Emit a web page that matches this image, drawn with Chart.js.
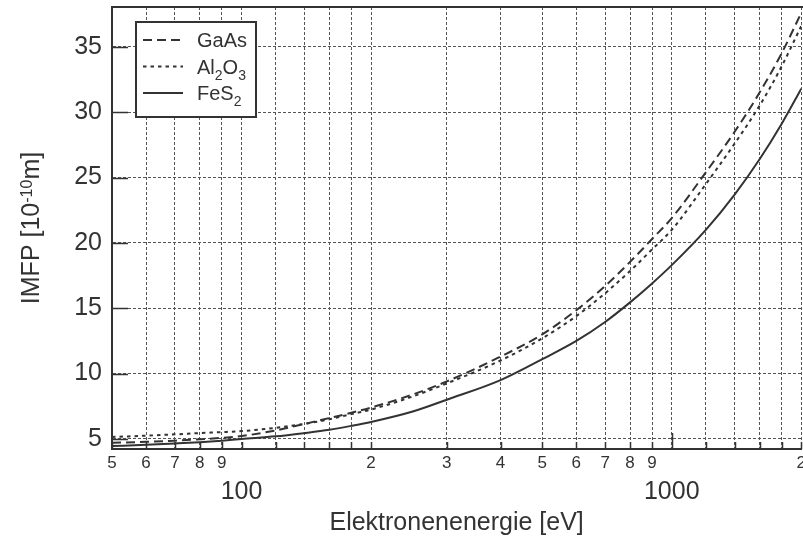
<!DOCTYPE html>
<html>
<head>
<meta charset="utf-8">
<script src="https://cdn.jsdelivr.net/npm/chart.js@4"></script>
<style>
  html, body { margin: 0; padding: 0; background: #fff; overflow: hidden; }
  #wrap { width: 810px; height: 539px; }
</style>
</head>
<body>
<div id="wrap"><canvas id="imfpChart"></canvas></div>
<script>
// electron energy in eV
const energy = [50, 60, 70, 80, 90, 100, 120, 140, 160, 180, 200, 250, 300, 400, 500, 600, 700, 800, 900, 1000, 1200, 1400, 1600, 1800, 2000];
// IMFP in 1e-10 m
const gaas  = [4.70, 4.78, 4.87, 4.97, 5.08, 5.22, 5.65, 6.15, 6.6, 7.0, 7.4, 8.4, 9.4, 11.3, 13.0, 14.85, 16.7, 18.55, 20.3, 21.9, 25.4, 28.5, 31.5, 34.5, 37.6];
const al2o3 = [5.15, 5.25, 5.35, 5.45, 5.52, 5.6, 5.85, 6.15, 6.5, 6.9, 7.25, 8.25, 9.25, 11.0, 12.7, 14.4, 16.15, 17.85, 19.5, 21.0, 24.5, 27.6, 30.5, 33.5, 36.6];
const fes2  = [4.45, 4.55, 4.65, 4.75, 4.87, 5.0, 5.2, 5.45, 5.7, 6.0, 6.3, 7.1, 8.0, 9.5, 11.1, 12.5, 13.95, 15.45, 16.9, 18.3, 21.0, 23.7, 26.4, 29.1, 31.8];

const xTickValues = [50, 60, 70, 80, 90, 100, 120, 140, 160, 180, 200, 300, 400, 500, 600, 700, 800, 900, 1000, 1200, 1400, 1600, 1800, 2000];
const xTickLabels = ['5', '6', '7', '8', '9', '', '', '', '', '', '2', '3', '4', '5', '6', '7', '8', '9', '', '', '', '', '', '2'];
const xDecadeValues = [100, 1000];
const xDecadeLabels = ['100', '1000'];
const yTickValues = [5, 10, 15, 20, 25, 30, 35];

const INK = '#333';
const FONT = '"Liberation Sans", Arial, sans-serif';

function pts(ys) {
  return energy.map((e, i) => ({ x: e, y: ys[i] }));
}

// chemical formula: digits become subscripts
function drawFormula(ctx, text, x, y, size) {
  for (const ch of text) {
    const sub = /[0-9]/.test(ch);
    ctx.font = (sub ? Math.round(size * 0.7) : size) + 'px ' + FONT;
    ctx.fillText(ch, x, sub ? y + size * 0.32 : y);
    x += ctx.measureText(ch).width;
  }
}

const overlay = {
  id: 'overlay',
  afterDraw(chart) {
    const { ctx, chartArea: a, scales } = chart;
    ctx.save();
    ctx.strokeStyle = INK;
    ctx.fillStyle = INK;

    // top frame line
    ctx.lineWidth = 2;
    ctx.beginPath();
    ctx.moveTo(a.left - 1, a.top);
    ctx.lineTo(a.right + 2, a.top);
    ctx.stroke();

    // inward tick marks
    ctx.lineWidth = 1.5;
    scales.x.ticks.forEach(t => {
      const px = Math.round(scales.x.getPixelForValue(t.value)) + 0.5;
      const len = t.value === 1000 ? 16 : 7;
      ctx.beginPath();
      ctx.moveTo(px, a.bottom);
      ctx.lineTo(px, a.bottom - len);
      ctx.stroke();
    });
    scales.y.ticks.forEach(t => {
      const py = Math.round(scales.y.getPixelForValue(t.value)) + 0.5;
      ctx.beginPath();
      ctx.moveTo(a.left, py);
      ctx.lineTo(a.left + 16, py);
      ctx.stroke();
    });

    // legend box
    const bx = a.left + 24, by = a.top + 15, bw = 120, bh = 95;
    ctx.fillStyle = '#fff';
    ctx.fillRect(bx, by, bw, bh);
    ctx.lineWidth = 2;
    ctx.strokeRect(bx, by, bw, bh);
    ctx.fillStyle = INK;
    ctx.textBaseline = 'alphabetic';
    chart.data.datasets.forEach((ds, i) => {
      const ry = by + 18 + i * 26.5;
      ctx.save();
      ctx.lineWidth = ds.borderWidth;
      ctx.setLineDash(ds.borderDash || []);
      ctx.beginPath();
      ctx.moveTo(bx + 7, ry);
      ctx.lineTo(bx + 47, ry);
      ctx.stroke();
      ctx.restore();
      drawFormula(ctx, ds.label, bx + 61, ry + 7, 20);
    });

    // y axis title with superscript
    const cx = 30, cy = (a.top + a.bottom) / 2;
    const parts = [
      { t: 'IMFP [10', s: 25, dy: 9 },
      { t: '-10', s: 16, dy: 2 },
      { t: 'm]', s: 25, dy: 9 }
    ];
    let total = 0;
    parts.forEach(p => { ctx.font = p.s + 'px ' + FONT; p.w = ctx.measureText(p.t).width; total += p.w; });
    ctx.translate(cx, cy);
    ctx.rotate(-Math.PI / 2);
    let x = -total / 2;
    parts.forEach(p => {
      ctx.font = p.s + 'px ' + FONT;
      ctx.fillText(p.t, x, p.dy);
      x += p.w;
    });
    ctx.restore();
  }
};

new Chart(document.getElementById('imfpChart').getContext('2d'), {
  type: 'line',
  data: {
    datasets: [
      { label: 'GaAs', data: pts(gaas), borderColor: INK, borderWidth: 2, borderDash: [9, 5] },
      { label: 'Al2O3', data: pts(al2o3), borderColor: INK, borderWidth: 2, borderDash: [3.5, 4] },
      { label: 'FeS2', data: pts(fes2), borderColor: INK, borderWidth: 2 }
    ]
  },
  options: {
    responsive: true,
    maintainAspectRatio: false,
    animation: false,
    layout: { padding: { top: 7, left: 0, right: 0, bottom: 0 } },
    elements: { point: { radius: 0 }, line: { cubicInterpolationMode: 'monotone' } },
    plugins: { legend: { display: false }, tooltip: { enabled: false } },
    scales: {
      x: {
        type: 'logarithmic', position: 'bottom', weight: 0, min: 50, max: 2000,
        afterBuildTicks: s => { s.ticks = xTickValues.map(v => ({ value: v })); },
        afterFit: s => { s.height = 20; },
        ticks: {
          autoSkip: false, maxRotation: 0, padding: 4, color: INK,
          font: { family: FONT, size: 17 },
          callback: (v, i) => xTickLabels[i]
        },
        grid: { color: '#555', lineWidth: 1, drawTicks: false },
        border: { display: true, color: INK, width: 2, dash: [3, 2] }
      },
      x2: {
        type: 'logarithmic', position: 'bottom', weight: 1, min: 50, max: 2000,
        afterBuildTicks: s => { s.ticks = xDecadeValues.map(v => ({ value: v })); },
        afterFit: s => { s.height = 70; },
        ticks: {
          autoSkip: false, maxRotation: 0, padding: 0, color: INK,
          font: { family: FONT, size: 25 },
          callback: (v, i) => xDecadeLabels[i]
        },
        grid: { display: false },
        border: { display: false },
        title: {
          display: true, text: 'Elektronenenergie [eV]', color: INK,
          font: { family: FONT, size: 25 }, padding: { top: 0, bottom: 1 }
        }
      },
      y: {
        min: 4.23, max: 38.05,
        afterBuildTicks: s => { s.ticks = yTickValues.map(v => ({ value: v })); },
        afterFit: s => { s.width = 112; s.paddingTop = 0; s.paddingBottom = 0; },
        ticks: { padding: 10, color: INK, font: { family: FONT, size: 25 } },
        grid: { color: '#555', lineWidth: 1, drawTicks: false },
        border: { display: true, color: INK, width: 2, dash: [3, 2] }
      }
    }
  },
  plugins: [overlay]
});
</script>
</body>
</html>
